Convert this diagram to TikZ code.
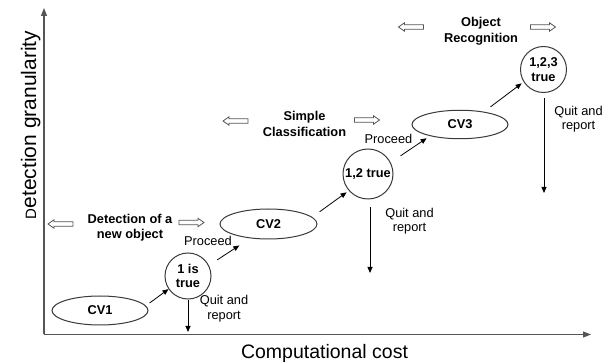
\documentclass[tikz,border=0pt]{standalone}
\usepackage{fontspec}
\setmainfont{Liberation Sans}
\usetikzlibrary{shapes.geometric,arrows.meta}
\definecolor{axisgray}{HTML}{555555}
\definecolor{nodegray}{HTML}{3A3A3A}
\begin{document}
\begin{tikzpicture}[x=1pt,y=-1pt,
  ax/.style={draw=axisgray,line width=1.3pt,-{Triangle[length=8pt,width=6pt]}},
  con/.style={draw=black,line width=0.8pt,-{Triangle[length=6pt,width=5pt]}},
  oval/.style={ellipse,draw=nodegray,line width=1pt,minimum width=96pt,minimum height=29pt,inner sep=0pt,font=\bfseries\fontsize{12.8}{15}\selectfont},
  dec/.style={circle,draw=nodegray,line width=1pt,minimum size=46pt,inner sep=0pt,align=center,font=\bfseries\fontsize{12.8}{14.5}\selectfont},
  lbl/.style={align=center,inner sep=0pt,font=\fontsize{12.8}{14.5}\selectfont},
  band/.style={align=center,inner sep=0pt,font=\bfseries\fontsize{12.8}{15.5}\selectfont},
  hollowline/.style={draw=axisgray,line width=0.8pt,fill=white,line join=miter},
  hollowR/.pic={\draw[hollowline] (-12.5,-2.2) -- (6.5,-2.2) -- (6.5,-4.2) -- (12.5,0) -- (6.5,4.2) -- (6.5,2.2) -- (-12.5,2.2) -- cycle;},
  hollowL/.pic={\draw[hollowline] (12.5,-2.2) -- (-6.5,-2.2) -- (-6.5,-4.2) -- (-12.5,0) -- (-6.5,4.2) -- (-6.5,2.2) -- (12.5,2.2) -- cycle;},
 ]
\fill[white] (0,0) rectangle (611,363);
\useasboundingbox (0,0) rectangle (611,363);

% axes
\coordinate (o) at (44,334.5);
\coordinate (ytop) at (44,8);
\coordinate (xend) at (591,334.5);
\draw[ax] (o) -- (ytop);
\draw[ax] (o) -- (xend);
\node[rotate=90,anchor=base,inner sep=0pt,font=\fontsize{21}{21}\selectfont] (ylab) at (36,125) {{\fontsize{15}{15}\selectfont D}etection granularity};
\node[anchor=base,inner sep=0pt,font=\fontsize{19.5}{19.5}\selectfont] (xlab) at (324.5,358.5) {Computational cost};

% nodes
\node[oval] (cv1) at (100,310.5) {CV1};
\node[dec] (c1) at (188,276) {1 is\\true};
\node[oval,minimum width=97pt,minimum height=30pt] (cv2) at (268.5,224) {CV2};
\node[dec,minimum size=50pt] (c2) at (368,174) {1,2 true};
\node[oval,minimum height=28.5pt] (cv3) at (460,124.5) {CV3};
\node[dec] (c3) at (543.5,69.5) {1,2,3\\true};

% connectors
\draw[con,shorten <=4.6pt] (cv1.6) -- (c1.214);
\draw[con,shorten <=10pt,shorten >=12.9pt] (c1.27) -- (cv2.218);
\draw[con,shorten <=9pt,shorten >=2.7pt] (cv2.9) -- (c2.221);
\draw[con,shorten <=11.8pt,shorten >=3.9pt] (c2.27) -- (cv3.201);
\draw[con,shorten <=8pt,shorten >=2.4pt] (cv3.28) -- (c3.212);

\coordinate (q1) at (188,332);
\coordinate (q2) at (370,273);
\coordinate (q3) at (544,193);
\draw[con,shorten <=1pt] (c1.south) -- (q1);
\draw[con,shorten <=8pt] (c2.south -| q2) -- (q2);
\draw[con,shorten <=5pt] (c3.south -| q3) -- (q3);

% labels
\node[lbl] (p1) at (208,241) {Proceed};
\node[lbl] (k1) at (224,308.5) {Quit and\\report};
\node[lbl] (p2) at (388.5,139) {Proceed};
\node[lbl] (k2) at (409.5,221) {Quit and\\report};
\node[lbl] (k3) at (578.5,119) {Quit and\\report};

% bands
\node[band] (b1) at (130,227.5) {Detection of a\\new object};
\node[band] (b2) at (304.5,124) {Simple\\Classification};
\node[band] (b3) at (481,31) {Object\\Recognition};
\pic at (60.5,224) {hollowL};
\pic at (191.5,222.5) {hollowR};
\pic at (235.5,121) {hollowL};
\pic at (367,120) {hollowR};
\pic at (411,27) {hollowL};
\pic at (543,27) {hollowR};
\end{tikzpicture}
\end{document}
